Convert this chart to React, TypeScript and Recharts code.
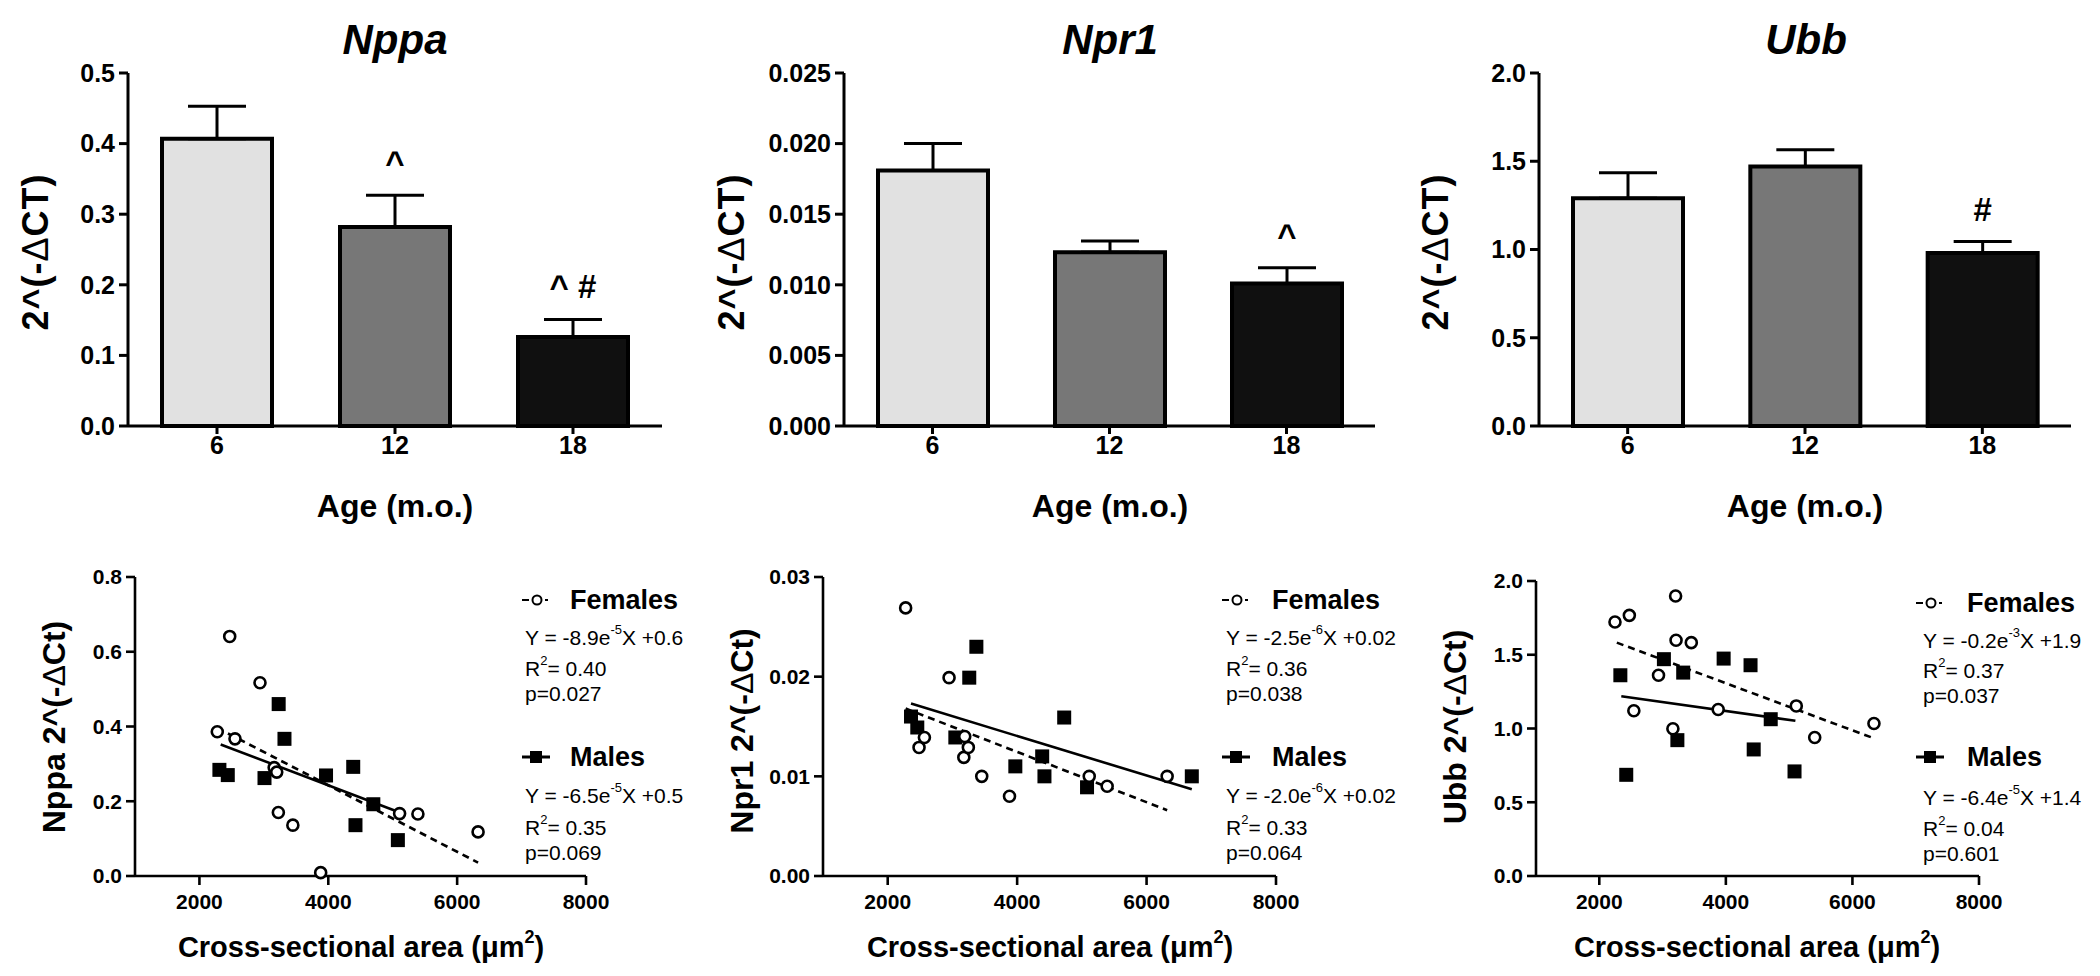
import React from 'react';
import { BarChart, Bar, XAxis, YAxis, ErrorBar, LabelList, Cell, ScatterChart, Scatter } from 'recharts';

// ---------- data ----------
const ages = ['6', '12', '18'];
const barFills = ['#e1e1e1', '#777777', '#101010'];

const nppaMean = [0.407, 0.282, 0.126];
const nppaErr = [0.046, 0.045, 0.025];
const nppaMarks = ['', '^', '^ #'];
const npr1Mean = [0.0181, 0.0123, 0.0101];
const npr1Err = [0.0019, 0.0008, 0.0011];
const npr1Marks = ['', '', '^'];
const ubbMean = [1.29, 1.47, 0.98];
const ubbErr = [0.145, 0.095, 0.065];
const ubbMarks = ['', '', '#'];

const nppaTicks = [0, 0.1, 0.2, 0.3, 0.4, 0.5];
const npr1Ticks = [0, 0.005, 0.01, 0.015, 0.02, 0.025];
const ubbTicks = [0, 0.5, 1.0, 1.5, 2.0];
const areaTicks = [2000, 4000, 6000, 8000];
const nppaScatTicks = [0, 0.2, 0.4, 0.6, 0.8];
const npr1ScatTicks = [0, 0.01, 0.02, 0.03];
const ubbScatTicks = [0, 0.5, 1.0, 1.5, 2.0];

const nppaFemales = [[2277, 0.386], [2470, 0.641], [2552, 0.367], [2940, 0.517], [3160, 0.290], [3200, 0.278], [3225, 0.170], [3450, 0.136], [3882, 0.009], [5107, 0.167], [5391, 0.166], [6325, 0.118]];
const nppaMales = [[2310, 0.284], [2440, 0.270], [3010, 0.262], [3230, 0.460], [3320, 0.367], [3965, 0.269], [4387, 0.292], [4422, 0.136], [4699, 0.192], [5080, 0.096]];
const nppaFemLine = [[2277, 0.396], [6325, 0.036]];
const nppaMalLine = [[2330, 0.352], [5080, 0.172]];

const npr1Females = [[2277, 0.0269], [2484, 0.0129], [2567, 0.0139], [2948, 0.0199], [3176, 0.0119], [3190, 0.0140], [3246, 0.0129], [3453, 0.0100], [3882, 0.0080], [5114, 0.0100], [5391, 0.0090], [6318, 0.0100]];
const npr1Males = [[2360, 0.0160], [2457, 0.0149], [3045, 0.0139], [3260, 0.0199], [3370, 0.0230], [3972, 0.0110], [4387, 0.0120], [4422, 0.0100], [4727, 0.0159], [5080, 0.0089], [6699, 0.0100]];
const npr1FemLine = [[2277, 0.0168], [6318, 0.0066]];
const npr1MalLine = [[2360, 0.0173], [6699, 0.0087]];

const ubbFemales = [[2248, 1.722], [2475, 1.767], [2546, 1.120], [2936, 1.361], [3163, 0.998], [3206, 1.898], [3213, 1.598], [3454, 1.582], [3879, 1.129], [5113, 1.153], [5404, 0.939], [6340, 1.034]];
const ubbMales = [[2333, 1.361], [2426, 0.686], [3021, 1.470], [3234, 0.921], [3326, 1.379], [3965, 1.474], [4390, 1.429], [4440, 0.858], [4709, 1.063], [5085, 0.709]];
const ubbFemLine = [[2277, 1.582], [6305, 0.939]];
const ubbMalLine = [[2348, 1.219], [5099, 1.052]];

// regression legend text: [coefficient, exponent, intercept, R2, p]
const nppaFemStats = ['-8.9', '-5', '0.6', '0.40', '0.027'];
const nppaMalStats = ['-6.5', '-5', '0.5', '0.35', '0.069'];
const npr1FemStats = ['-2.5', '-6', '0.02', '0.36', '0.038'];
const npr1MalStats = ['-2.0', '-6', '0.02', '0.33', '0.064'];
const ubbFemStats = ['-0.2', '-3', '1.9', '0.37', '0.037'];
const ubbMalStats = ['-6.4', '-5', '1.4', '0.04', '0.601'];

// ---------- styles ----------
const FONT = "'Liberation Sans', Arial, Helvetica, sans-serif";
const toPts = (arr: number[][]) => arr.map(([x, y]) => ({ x, y }));

const abs = (x: number, y: number, extra: React.CSSProperties = {}): React.CSSProperties => ({
  position: 'absolute', left: x, top: y, transform: 'translate(-50%,-50%)', whiteSpace: 'nowrap',
  fontFamily: FONT, color: '#000', lineHeight: 1, ...extra,
});

function BarPanel(props: any) {
  const { left, plotLeft, plotRight, yw, means, errs, marks, ticks, decimals } = props;
  const W = 700, H = 480, top = 73, bottom = 426, xh = 40;
  const data = ages.map((a, i) => ({ age: a, mean: means[i], err: [0, errs[i]], mark: marks[i] }));
  const renderMark = (p: any) => {
    const vb = p.viewBox && p.viewBox.width !== undefined ? p.viewBox : p;
    const value = p.value;
    if (!value) return null;
    let i = p.index;
    if (i === undefined || marks[i] !== value) i = marks.indexOf(value);
    const pxPerUnit = vb.height / means[i];
    const errTop = vb.y - errs[i] * pxPerUnit;
    return (
      <text x={vb.x + vb.width / 2} y={errTop - 21} textAnchor="middle" fontFamily={FONT} fontWeight={700} fontSize={33} fill="#000">
        {value}
      </text>
    );
  };
  return (
    <div style={{ position: 'absolute', left, top: 0 }}>
      <BarChart width={W} height={H} data={data} barSize={110}
        margin={{ top, right: W - plotRight, bottom: H - bottom - xh, left: plotLeft - yw }}>
        <XAxis dataKey="age" height={xh} interval={0} tickSize={8} tickMargin={2}
          axisLine={{ stroke: '#000', strokeWidth: 3 }} tickLine={{ stroke: '#000', strokeWidth: 3 }}
          tick={{ fontFamily: FONT, fontSize: 25, fontWeight: 700, fill: '#000' }} />
        <YAxis width={yw} type="number" domain={[0, ticks[ticks.length - 1]]} ticks={ticks} interval={0}
          tickFormatter={(v: number) => v.toFixed(decimals)} tickSize={9} tickMargin={4}
          axisLine={{ stroke: '#000', strokeWidth: 3 }} tickLine={{ stroke: '#000', strokeWidth: 3 }}
          tick={{ fontFamily: FONT, fontSize: 25, fontWeight: 700, fill: '#000' }} />
        <Bar dataKey="mean" isAnimationActive={false} stroke="#000" strokeWidth={4}>
          {data.map((d, i) => <Cell key={i} fill={barFills[i]} />)}
          <ErrorBar dataKey="err" direction="y" width={29} strokeWidth={3} stroke="#000" />
          <LabelList dataKey="mark" content={renderMark} />
        </Bar>
      </BarChart>
    </div>
  );
}

const circleShape = (p: any) => (
  <circle cx={p.cx} cy={p.cy} r={5.5} fill="#fff" stroke="#000" strokeWidth={2.6} />
);
const squareShape = (p: any) => (
  <rect x={p.cx - 7} y={p.cy - 7} width={14} height={14} fill="#000" />
);
const noShape = () => <g />;

function ScatterPanel(props: any) {
  const { left, plotLeft, plotRight, plotTop, fem, mal, femLine, malLine, ticks, decimals } = props;
  const W = 700, H = 436, T = 540, plotBottom = 876, xh = 50, yw = 60;
  return (
    <div style={{ position: 'absolute', left, top: T }}>
      <ScatterChart width={W} height={H}
        margin={{ top: plotTop - T, right: W - plotRight, bottom: H - (plotBottom - T) - xh, left: plotLeft - yw }}>
        <XAxis type="number" dataKey="x" domain={[1000, 8000]} ticks={areaTicks} interval={0} height={xh}
          tickSize={9} tickMargin={9}
          axisLine={{ stroke: '#000', strokeWidth: 2.6 }} tickLine={{ stroke: '#000', strokeWidth: 2.6 }}
          tick={{ fontFamily: FONT, fontSize: 21, fontWeight: 700, fill: '#000' }} />
        <YAxis type="number" dataKey="y" width={yw} domain={[0, ticks[ticks.length - 1]]} ticks={ticks} interval={0}
          tickFormatter={(v: number) => v.toFixed(decimals)} tickSize={9} tickMargin={4}
          axisLine={{ stroke: '#000', strokeWidth: 2.6 }} tickLine={{ stroke: '#000', strokeWidth: 2.6 }}
          tick={{ fontFamily: FONT, fontSize: 21, fontWeight: 700, fill: '#000' }} />
        <Scatter data={toPts(femLine)} line={{ stroke: '#000', strokeWidth: 2.6, strokeDasharray: '7 5' }} shape={noShape} isAnimationActive={false} />
        <Scatter data={toPts(malLine)} line={{ stroke: '#000', strokeWidth: 2.6 }} shape={noShape} isAnimationActive={false} />
        <Scatter data={toPts(mal)} shape={squareShape} isAnimationActive={false} />
        <Scatter data={toPts(fem)} shape={circleShape} isAnimationActive={false} />
      </ScatterChart>
    </div>
  );
}

function StatLines({ x, ys, stats }: any) {
  const [c, e, b, r2, p] = stats;
  const st: React.CSSProperties = { fontSize: 21, fontWeight: 400 };
  const sup: React.CSSProperties = { fontSize: 13, verticalAlign: 'top', position: 'relative', top: -4 };
  return (
    <>
      <div style={abs(x, ys[0], { ...st, transform: 'translate(0,-50%)' })}>
        Y = {c}e<span style={sup}>{e}</span>X +{b}
      </div>
      <div style={abs(x, ys[1], { ...st, transform: 'translate(0,-50%)' })}>
        R<span style={sup}>2</span>= {r2}
      </div>
      <div style={abs(x, ys[2], { ...st, transform: 'translate(0,-50%)' })}>
        p={p}
      </div>
    </>
  );
}

function LegendBlock({ symX, textX, eqX, ys, femStats, malStats }: any) {
  const head: React.CSSProperties = { fontSize: 27, fontWeight: 700, transform: 'translate(0,-50%)' };
  return (
    <>
      <svg style={{ position: 'absolute', left: symX, top: ys[0] - 8 }} width={30} height={16}>
        <line x1={0} y1={8} x2={7} y2={8} stroke="#000" strokeWidth={2} />
        <line x1={23} y1={8} x2={26} y2={8} stroke="#000" strokeWidth={2} />
        <circle cx={15} cy={8} r={4.5} fill="#fff" stroke="#000" strokeWidth={2} />
      </svg>
      <div style={abs(textX, ys[0], head)}>Females</div>
      <StatLines x={eqX} ys={[ys[1], ys[2], ys[3]]} stats={femStats} />
      <svg style={{ position: 'absolute', left: symX, top: ys[4] - 8 }} width={30} height={16}>
        <line x1={0} y1={8} x2={28} y2={8} stroke="#000" strokeWidth={3} />
        <rect x={8} y={2} width={12} height={12} fill="#000" />
      </svg>
      <div style={abs(textX, ys[4], head)}>Males</div>
      <StatLines x={eqX} ys={[ys[5], ys[6], ys[7]]} stats={malStats} />
    </>
  );
}

const Delta = () => <span style={{ fontWeight: 400 }}>Δ</span>;

export default function App() {
  const titleSt: React.CSSProperties = { fontSize: 42, fontWeight: 700, fontStyle: 'italic' };
  const yTitleSt: React.CSSProperties = { fontSize: 36, fontWeight: 700, letterSpacing: 1, transform: 'translate(-50%,-50%) rotate(-90deg)' };
  const sYTitleSt: React.CSSProperties = { fontSize: 32, fontWeight: 700, transform: 'translate(-50%,-50%) rotate(-90deg)' };
  const ageSt: React.CSSProperties = { fontSize: 32, fontWeight: 700 };
  const csaSt: React.CSSProperties = { fontSize: 29, fontWeight: 700 };
  const supS: React.CSSProperties = { fontSize: 18, verticalAlign: 'top', position: 'relative', top: -5 };
  const legYs12 = [600, 637, 668, 693, 757, 795, 827, 852];
  const legYs3 = [603, 640, 670, 695, 757, 797, 828, 853];
  return (
    <div style={{ position: 'absolute', left: 0, top: 0, width: 2100, height: 976, background: '#fff', overflow: 'hidden', fontFamily: FONT }}>
      <BarPanel left={0} plotLeft={128} plotRight={662} yw={70} means={nppaMean} errs={nppaErr} marks={nppaMarks} ticks={nppaTicks} decimals={1} />
      <BarPanel left={700} plotLeft={144} plotRight={675} yw={90} means={npr1Mean} errs={npr1Err} marks={npr1Marks} ticks={npr1Ticks} decimals={3} />
      <BarPanel left={1400} plotLeft={139} plotRight={671} yw={70} means={ubbMean} errs={ubbErr} marks={ubbMarks} ticks={ubbTicks} decimals={1} />

      <ScatterPanel left={0} plotLeft={135} plotRight={586} plotTop={577} fem={nppaFemales} mal={nppaMales} femLine={nppaFemLine} malLine={nppaMalLine} ticks={nppaScatTicks} decimals={1} />
      <ScatterPanel left={700} plotLeft={123} plotRight={576} plotTop={577} fem={npr1Females} mal={npr1Males} femLine={npr1FemLine} malLine={npr1MalLine} ticks={npr1ScatTicks} decimals={2} />
      <ScatterPanel left={1400} plotLeft={136} plotRight={579} plotTop={581} fem={ubbFemales} mal={ubbMales} femLine={ubbFemLine} malLine={ubbMalLine} ticks={ubbScatTicks} decimals={1} />

      {/* bar titles */}
      <div style={abs(395, 40, titleSt)}>Nppa</div>
      <div style={abs(1110, 40, titleSt)}>Npr1</div>
      <div style={abs(1806, 40, titleSt)}>Ubb</div>

      <div style={abs(36, 252, yTitleSt)}>2^(-<Delta />CT)</div>
      <div style={abs(732, 252, yTitleSt)}>2^(-<Delta />CT)</div>
      <div style={abs(1436, 252, yTitleSt)}>2^(-<Delta />CT)</div>

      <div style={abs(395, 506, ageSt)}>Age (m.o.)</div>
      <div style={abs(1110, 506, ageSt)}>Age (m.o.)</div>
      <div style={abs(1805, 506, ageSt)}>Age (m.o.)</div>

      {/* scatter titles */}
      <div style={abs(54, 727, sYTitleSt)}>Nppa 2^(-<Delta />Ct)</div>
      <div style={abs(742, 731, sYTitleSt)}>Npr1 2^(-<Delta />Ct)</div>
      <div style={abs(1455, 727, sYTitleSt)}>Ubb 2^(-<Delta />Ct)</div>

      <div style={abs(361, 947, csaSt)}>Cross-sectional area (<span style={{ fontWeight: 700 }}>μ</span>m<span style={supS}>2</span>)</div>
      <div style={abs(1050, 947, csaSt)}>Cross-sectional area (<span style={{ fontWeight: 700 }}>μ</span>m<span style={supS}>2</span>)</div>
      <div style={abs(1757, 947, csaSt)}>Cross-sectional area (<span style={{ fontWeight: 700 }}>μ</span>m<span style={supS}>2</span>)</div>

      <LegendBlock symX={522} textX={570} eqX={525} ys={legYs12} femStats={nppaFemStats} malStats={nppaMalStats} />
      <LegendBlock symX={1222} textX={1272} eqX={1226} ys={legYs12} femStats={npr1FemStats} malStats={npr1MalStats} />
      <LegendBlock symX={1916} textX={1967} eqX={1923} ys={legYs3} femStats={ubbFemStats} malStats={ubbMalStats} />
    </div>
  );
}
